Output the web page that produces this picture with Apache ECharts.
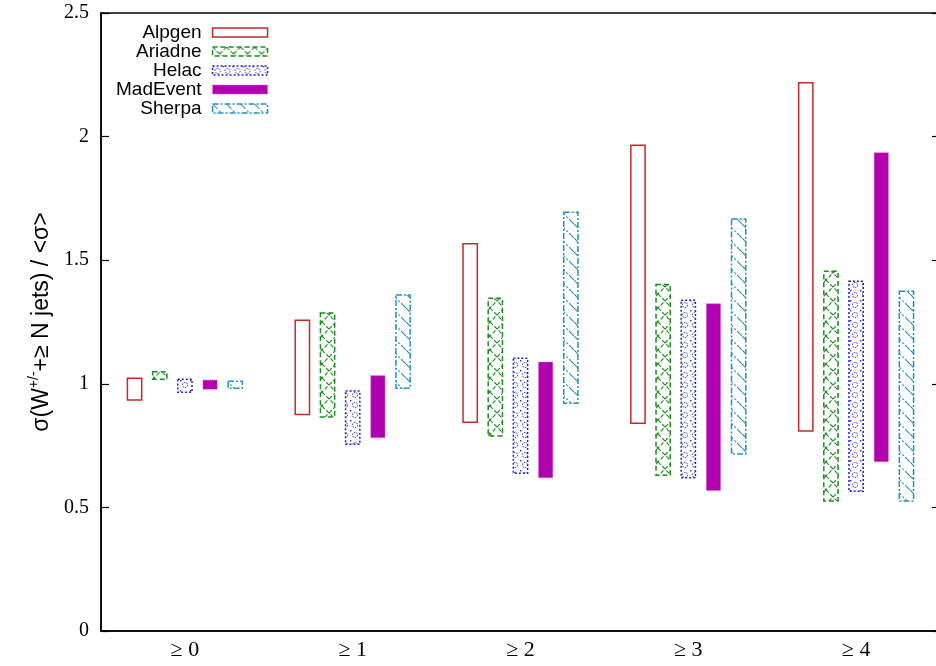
<!DOCTYPE html>
<html>
<head>
<meta charset="utf-8">
<script src="https://cdn.jsdelivr.net/npm/echarts@6/dist/echarts.min.js"></script>
<style>
html,body{margin:0;padding:0;background:#fff;}
#chart{width:936px;height:666px;}
</style>
</head>
<body>
<div id="chart"></div>
<script>
// ---- data ----
const categories = ['≥ 0', '≥ 1', '≥ 2', '≥ 3', '≥ 4'];
const seriesNames = ['Alpgen', 'Ariadne', 'Helac', 'MadEvent', 'Sherpa'];
const yTicks = [0, 0.5, 1, 1.5, 2, 2.5];

const alpgenLow   = [0.934, 0.876, 0.844, 0.840, 0.809];
const alpgenHigh  = [1.022, 1.257, 1.567, 1.965, 2.218];
const ariadneLow  = [1.018, 0.866, 0.789, 0.630, 0.526];
const ariadneHigh = [1.049, 1.286, 1.346, 1.402, 1.455];
const helacLow    = [0.966, 0.755, 0.638, 0.620, 0.565];
const helacHigh   = [1.018, 0.971, 1.103, 1.338, 1.415];
const madLow      = [0.978, 0.782, 0.620, 0.568, 0.685];
const madHigh     = [1.015, 1.033, 1.088, 1.324, 1.935];
const sherpaLow   = [0.982, 0.982, 0.921, 0.716, 0.526];
const sherpaHigh  = [1.010, 1.359, 1.694, 1.667, 1.374];

const lows  = [alpgenLow, ariadneLow, helacLow, madLow, sherpaLow];
const highs = [alpgenHigh, ariadneHigh, helacHigh, madHigh, sherpaHigh];

// ---- patterns ----
function makeTile(w, h, draw) {
  const c = document.createElement('canvas');
  c.width = w; c.height = h;
  const ctx = c.getContext('2d');
  draw(ctx, w, h);
  return c;
}
const GREEN = '#1e8c1e', BLUE = '#2323c8', RED = '#c82828', MAG = '#b000b0', CYAN = '#2490c0';

const ariadneTile = makeTile(14, 14, (ctx, w, h) => {
  ctx.strokeStyle = GREEN; ctx.lineWidth = 1.1; ctx.setLineDash([4, 2]);
  ctx.beginPath(); ctx.moveTo(0, 0); ctx.lineTo(w, h); ctx.moveTo(w, 0); ctx.lineTo(0, h); ctx.stroke();
});
const helacTile = makeTile(10, 10, (ctx, w, h) => {
  ctx.strokeStyle = BLUE; ctx.fillStyle = BLUE; ctx.lineWidth = 1; ctx.setLineDash([1.5, 1.2]);
  ctx.beginPath(); ctx.arc(5, 5, 2.6, 0, Math.PI * 2); ctx.stroke();
  ctx.fillRect(0, 0, 1.4, 1.4);
});
const sherpaTile = makeTile(14, 14, (ctx, w, h) => {
  ctx.strokeStyle = CYAN; ctx.lineWidth = 1.1; ctx.setLineDash([7, 2, 2, 2]);
  ctx.beginPath(); ctx.moveTo(0, 0); ctx.lineTo(w, h); ctx.stroke();
});

const styles = [
  { fill: '#ffffff', stroke: RED, lineWidth: 1.5, lineDash: null },
  { fill: { image: ariadneTile, repeat: 'repeat' }, stroke: GREEN, lineWidth: 1.5, lineDash: [5, 3] },
  { fill: { image: helacTile, repeat: 'repeat' }, stroke: BLUE, lineWidth: 1.5, lineDash: [2, 2] },
  { fill: MAG, stroke: '#d070d0', lineWidth: 1, lineDash: [1, 1] },
  { fill: { image: sherpaTile, repeat: 'repeat' }, stroke: CYAN, lineWidth: 1.5, lineDash: [6, 2, 2, 2] }
];
const offsets = [-0.3, -0.15, 0, 0.15, 0.3];
const barW = 0.085;

const series = seriesNames.map((name, s) => ({
  name: name,
  type: 'custom',
  encode: { x: 0, y: [1, 2] },
  data: categories.map((c, i) => [i, lows[s][i], highs[s][i]]),
  itemStyle: {
    color: styles[s].fill, borderColor: styles[s].stroke,
    borderWidth: styles[s].lineWidth, borderType: styles[s].lineDash || 'solid'
  },
  renderItem: function (params, api) {
    const idx = api.value(0);
    const lo = api.value(1), hi = api.value(2);
    const band = api.size([1, 0])[0];
    const top = api.coord([idx, hi]);
    const bot = api.coord([idx, lo]);
    const w = barW * band;
    const x = top[0] + offsets[s] * band - w / 2;
    return {
      type: 'rect',
      shape: { x: x, y: top[1], width: w, height: bot[1] - top[1] },
      style: {
        fill: styles[s].fill, stroke: styles[s].stroke,
        lineWidth: styles[s].lineWidth, lineDash: styles[s].lineDash
      }
    };
  }
}));

const chart = echarts.init(document.getElementById('chart'), null, { renderer: 'canvas' });
chart.setOption({
  animation: false,
  backgroundColor: '#ffffff',
  grid: { left: 101, width: 839, top: 13, bottom: 35, show: true, borderColor: '#000', borderWidth: 1.5, backgroundColor: 'transparent', outerBoundsMode: 'none' },
  legend: {
    orient: 'vertical', left: 111, top: 18, align: 'right',
    itemWidth: 55, itemHeight: 9, itemGap: 0, icon: 'rect', selectedMode: false,
    textStyle: { fontFamily: 'Liberation Sans', fontSize: 19, lineHeight: 19, color: '#000', padding: [0, 6, 0, 0] },
    data: seriesNames.map((n, s) => ({
      name: n,
      itemStyle: {
        color: styles[s].fill, borderColor: styles[s].stroke,
        borderWidth: styles[s].lineWidth, borderType: styles[s].lineDash || 'solid'
      }
    }))
  },
  xAxis: {
    type: 'category', data: categories, boundaryGap: true,
    axisLine: { show: true, lineStyle: { color: '#000', width: 1.5 } },
    axisTick: { show: false },
    splitLine: { show: false },
    axisLabel: { fontFamily: 'Liberation Serif', fontSize: 22, color: '#000', margin: 8 }
  },
  yAxis: [
    {
      type: 'value', min: yTicks[0], max: yTicks[yTicks.length - 1], interval: 0.5,
      name: '{a|σ(W}{s|+/-}{a|+≥ N jets) / <σ>}',
      nameLocation: 'middle', nameRotate: 90, nameGap: 48,
      nameTextStyle: {
        rich: {
          a: { fontFamily: 'Liberation Sans', fontSize: 23, color: '#000', verticalAlign: 'bottom', lineHeight: 26 },
          s: { fontFamily: 'Liberation Sans', fontSize: 14, color: '#000', verticalAlign: 'top', lineHeight: 26, padding: [0, 0, 11, 0] }
        }
      },
      axisLine: { show: true, lineStyle: { color: '#000', width: 1.5 } },
      axisTick: { show: true, inside: true, length: 8, lineStyle: { color: '#000', width: 1.2 } },
      splitLine: { show: false },
      axisLabel: { fontFamily: 'Liberation Serif', fontSize: 20, color: '#000', margin: 12 }
    },
    {
      type: 'value', position: 'right', min: yTicks[0], max: yTicks[yTicks.length - 1], interval: 0.5,
      axisLine: { show: true, lineStyle: { color: '#000', width: 1.5 } },
      axisTick: { show: true, inside: true, length: 8, lineStyle: { color: '#000', width: 1.2 } },
      splitLine: { show: false },
      axisLabel: { show: false }
    }
  ],
  series: series
});
</script>
</body>
</html>
